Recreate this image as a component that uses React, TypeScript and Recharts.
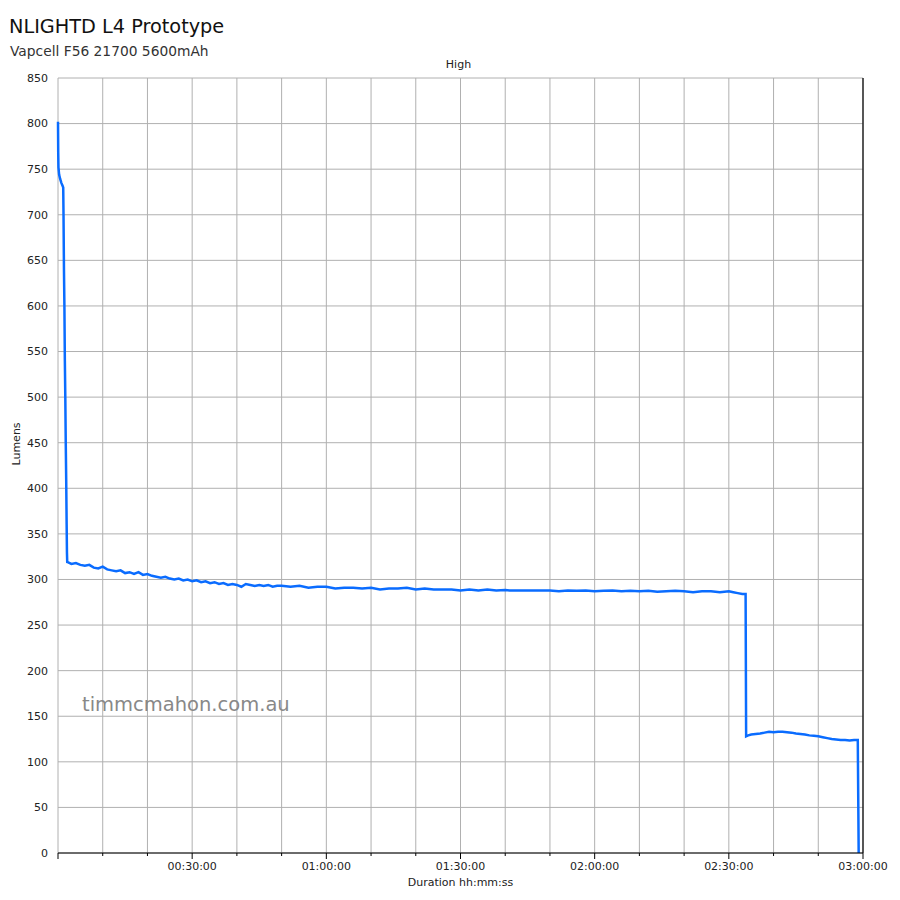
import { LineChart, Line, XAxis, YAxis, CartesianGrid, ReferenceLine } from 'recharts';

// [seconds, lumens]
const turnOnPhase: [number, number][] = [
  [0, 802], [3, 768], [6, 752], [15, 744], [30, 739], [45, 735], [60, 732], [70, 730],
  [74, 700], [80, 640], [86, 600], [92, 540], [98, 500], [104, 450], [110, 410],
  [116, 360], [120, 330], [124, 318],
];

const highPhase: [number, number][] = [
  [130, 319], [180, 317], [240, 318], [300, 316], [360, 315], [420, 316], [480, 313],
  [540, 312], [600, 314], [660, 311], [720, 310], [780, 309], [840, 310], [900, 307],
  [960, 308], [1020, 306], [1080, 308], [1140, 305], [1200, 306], [1260, 304],
  [1320, 303], [1380, 302], [1440, 303], [1500, 301], [1560, 300], [1620, 301],
  [1680, 299], [1740, 300], [1800, 298], [1860, 299], [1920, 297], [1980, 298],
  [2040, 296], [2100, 297], [2160, 295], [2220, 296], [2280, 294], [2340, 295],
  [2400, 294], [2460, 292], [2520, 295], [2580, 294], [2640, 293], [2700, 294],
  [2760, 293], [2820, 294], [2880, 292], [2940, 293], [3000, 293], [3120, 292],
  [3240, 293], [3360, 291], [3480, 292], [3600, 292], [3720, 290], [3840, 291],
  [3960, 291], [4080, 290], [4200, 291], [4320, 289], [4440, 290], [4560, 290],
  [4680, 291], [4800, 289], [4920, 290], [5040, 289], [5160, 289], [5280, 289],
  [5400, 288], [5520, 289], [5640, 288], [5760, 289], [5880, 288], [6000, 288.5],
  [6060, 288], [6600, 288], [6720, 287], [6840, 288], [6960, 287.5], [7080, 288],
  [7200, 287], [7320, 287.5], [7440, 288], [7560, 287], [7680, 287.5], [7800, 287],
  [7920, 287.5], [8040, 286.5], [8160, 287], [8280, 287.5], [8400, 287], [8520, 286],
  [8640, 287], [8760, 287], [8880, 286], [9000, 287], [9060, 286], [9120, 285],
  [9180, 284], [9225, 284],
];

const stepDownPhase: [number, number][] = [
  [9232, 128], [9260, 129], [9300, 130], [9360, 130.5], [9420, 131], [9480, 132],
  [9540, 133], [9600, 132.5], [9660, 133], [9720, 133], [9780, 132.5], [9840, 132],
  [9900, 131], [9960, 130.5], [10020, 130], [10080, 129], [10140, 128.5], [10200, 128],
  [10260, 127], [10320, 126], [10380, 125], [10440, 124.5], [10500, 124], [10560, 124],
  [10620, 123.5], [10680, 124], [10730, 124], [10742, 0],
];

const xTicks = [0, 600, 1200, 1800, 2400, 3000, 3600, 4200, 4800, 5400, 6000, 6600, 7200,
  7800, 8400, 9000, 9600, 10200, 10800];
const yTicks = [0, 50, 100, 150, 200, 250, 300, 350, 400, 450, 500, 550, 600, 650, 700,
  750, 800, 850];

const data = [...turnOnPhase, ...highPhase, ...stepDownPhase].map(([t, lm]) => ({ t, lm }));

const FONT = '"DejaVu Sans", sans-serif';

function fmt(sec: number) {
  const h = Math.floor(sec / 3600);
  const m = Math.floor((sec % 3600) / 60);
  const s = sec % 60;
  const p = (n: number) => String(n).padStart(2, '0');
  return `${p(h)}:${p(m)}:${p(s)}`;
}

function TimeTick(props: any) {
  const { x, y, payload } = props;
  const major = payload.value % 1800 === 0;
  return (
    <g>
      <line x1={x} x2={x} y1={853} y2={853 + (major ? 6 : 3)} stroke="#000" strokeWidth={1} />
      {major && payload.value > 0 && (
        <text x={x} y={870} textAnchor="middle" fontSize={11} fill="#222" fontFamily={FONT}>
          {fmt(payload.value)}
        </text>
      )}
    </g>
  );
}

export default function App() {
  return (
    <div style={{ position: 'absolute', left: 0, top: 0, width: 900, height: 900, background: '#fff', fontFamily: FONT }}>
      <div style={{ position: 'absolute', left: 9, top: 15, fontSize: 19.3, color: '#111' }}>NLIGHTD L4 Prototype</div>
      <div style={{ position: 'absolute', left: 10, top: 43, fontSize: 13.8, color: '#333' }}>Vapcell F56 21700 5600mAh</div>
      <div style={{ position: 'absolute', left: 0, width: 917, top: 58, fontSize: 11, color: '#222', textAlign: 'center' }}>High</div>
      <LineChart width={900} height={900} data={data} margin={{ top: 78, right: 37, bottom: 7, left: 0 }}>
        <CartesianGrid stroke="#b0b0b0" strokeWidth={1} />
        <XAxis
          dataKey="t"
          type="number"
          domain={[0, 10800]}
          ticks={xTicks}
          interval={0}
          height={40}
          axisLine={{ stroke: '#000', strokeWidth: 1.2 }}
          tickLine={false}
          tick={<TimeTick />}
          label={{ value: 'Duration hh:mm:ss', position: 'insideBottom', offset: 7, fontSize: 11, fill: '#222', fontFamily: FONT }}
        />
        <YAxis
          type="number"
          domain={[0, 850]}
          ticks={yTicks}
          interval={0}
          width={58}
          axisLine={false}
          tickLine={false}
          tickMargin={4}
          tick={{ fontSize: 11, fill: '#222', fontFamily: FONT }}
          label={{ value: 'Lumens', angle: -90, position: 'insideLeft', offset: 16, fontSize: 11, fill: '#222', fontFamily: FONT }}
        />
        <ReferenceLine x={10800} stroke="#000" strokeWidth={1.2} />
        <Line
          dataKey="lm"
          type="linear"
          stroke="#0a6cff"
          strokeWidth={2.5}
          dot={false}
          isAnimationActive={false}
        />
      </LineChart>
      <div style={{ position: 'absolute', left: 82, top: 693, fontSize: 19.5, color: '#888' }}>timmcmahon.com.au</div>
    </div>
  );
}
